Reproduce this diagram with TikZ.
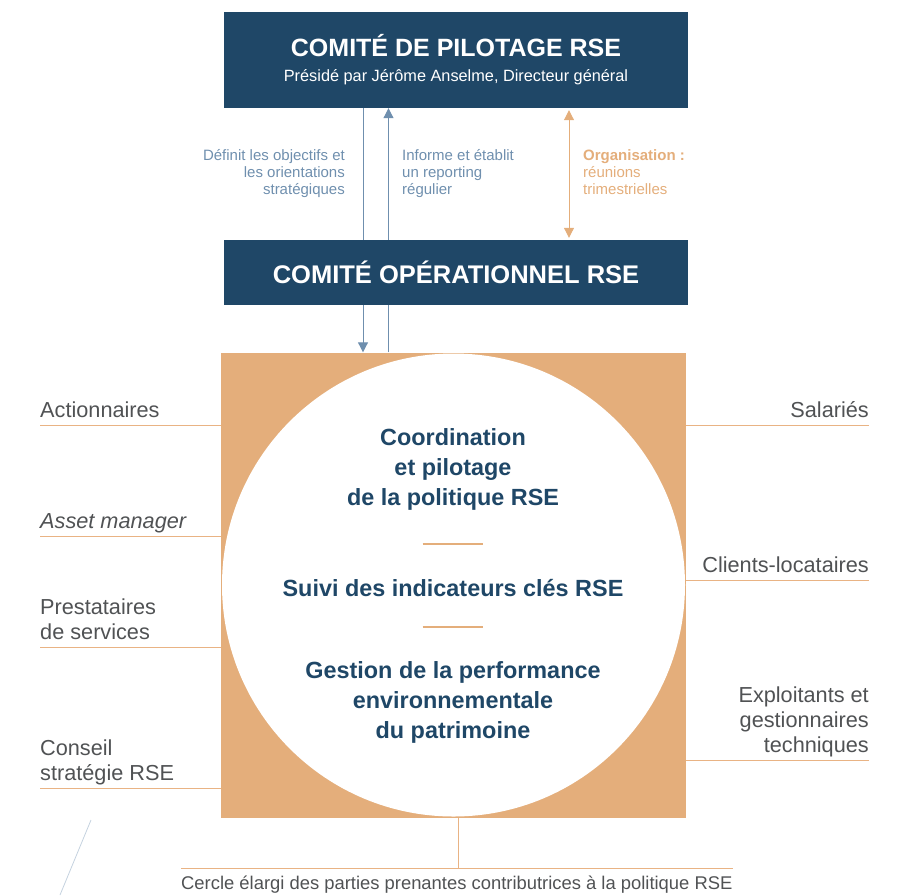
\documentclass[tikz,border=0pt]{standalone}
\usepackage{fontspec}
\setmainfont{Liberation Sans}
\usetikzlibrary{positioning, arrows.meta}
\definecolor{navy}{HTML}{1F4767}
\definecolor{sand}{HTML}{E4AE7B}
\definecolor{slate}{HTML}{6F8FAE}
\definecolor{ink}{HTML}{505254}
\definecolor{rule}{HTML}{E9B384}

\begin{document}
\begin{tikzpicture}[x=1pt, y=-1pt,
    comite/.style={fill=navy, text=white, minimum width=464, align=center, inner sep=0},
    flux/.style={draw=slate, line width=1pt},
    fleche/.style={-{Triangle[width=10pt,length=10pt]}},
    note/.style={text=slate, font=\fontsize{15}{17}\selectfont, inner sep=0},
    partie/.style={text=ink, font=\fontsize{21.7}{25}\selectfont, inner sep=0,
        execute at end node=\strut},
    trait/.style={draw=rule, line width=1pt},
    mission/.style={text=navy, font=\bfseries\fontsize{23.4}{30}\selectfont, align=center, inner sep=0},
]
\useasboundingbox (0,0) rectangle (903,895);

% comites
\node[comite, minimum height=96, font=\fontsize{16.3}{25}\selectfont] (pilot) at (456,60)
    {{\bfseries\fontsize{25}{25}\selectfont COMITÉ DE PILOTAGE RSE}\\
     Présidé par Jérôme Anselme, Directeur général};
\node[comite, minimum height=65, font=\bfseries\fontsize{25.5}{28}\selectfont] (opera) at (456,272.5)
    {COMITÉ OPÉRATIONNEL RSE};

% carre et cercle
\node[fill=sand, minimum size=465, inner sep=0] (carre) at (453.5,585) {};
\node[circle, fill=white, minimum size=463, inner sep=0] (cercle) at (carre.center) {};

\node[mission] (coord) at (453,469) {Coordination\\et pilotage\\de la politique RSE};
\node[mission] (suivi) at (453,588) {Suivi des indicateurs clés RSE};
\node[mission] (gestion) at (453,702) {Gestion de la performance\\environnementale\\du patrimoine};
\coordinate (sepA) at (452.5,544);
\coordinate (sepB) at (452.5,627);
\draw[draw=sand, line width=1.6pt] ([xshift=-30]sepA) -- ([xshift=30]sepA);
\draw[draw=sand, line width=1.6pt] ([xshift=-30]sepB) -- ([xshift=30]sepB);

% fleches
\coordinate (xdesc) at (363,0);
\coordinate (xmont) at (388.5,0);
\coordinate (xorg) at (569,0);
\draw[flux] (pilot.south -| xdesc) -- (opera.north -| xdesc);
\draw[flux, fleche] (opera.south -| xdesc) -- (carre.north -| xdesc);
\draw[flux] (carre.north -| xmont) -- (opera.south -| xmont);
\draw[flux, fleche] (opera.north -| xmont) -- (pilot.south -| xmont);
\draw[draw=sand, line width=1pt, {Triangle[width=10pt,length=10pt]}-{Triangle[width=10pt,length=10pt]},
    shorten <=2pt, shorten >=2pt] (pilot.south -| xorg) -- (opera.north -| xorg);

\node[note, anchor=north east, align=right] (definit) at (345,149)
    {Définit les objectifs et\\les orientations\\stratégiques};
\node[note, anchor=north west, align=left] (informe) at (402,149)
    {Informe et établit\\un reporting\\régulier};
\node[note, anchor=north west, align=left, text=sand] (orga) at (583,149)
    {\textbf{Organisation :}\\réunions\\trimestrielles};

% parties prenantes
\node[partie, anchor=south west, align=left] (action) at (40,425) {Actionnaires};
\node[partie, anchor=south west, align=left] (asset) at (40,536) {\itshape Asset manager};
\node[partie, anchor=south west, align=left] (presta) at (40,647) {Prestataires\\de services};
\node[partie, anchor=south west, align=left] (conseil) at (40,788) {Conseil\\stratégie RSE};
\node[partie, anchor=south east, align=right] (salar) at (869,425) {Salariés};
\node[partie, anchor=south east, align=right] (client) at (869,580) {Clients-locataires};
\node[partie, anchor=south east, align=right] (exploit) at (869,760) {Exploitants et\\gestionnaires\\techniques};

\draw[trait] (action.south west) -- (action.south west -| carre.west);
\draw[trait] (asset.south west) -- (asset.south west -| carre.west);
\draw[trait] (presta.south west) -- (presta.south west -| carre.west);
\draw[trait] (conseil.south west) -- (conseil.south west -| carre.west);
\draw[trait] (salar.south east) -- (salar.south east -| carre.east);
\draw[trait] (client.south east) -- (client.south east -| carre.east);
\draw[trait] (exploit.south east) -- (exploit.south east -| carre.east);

% cercle elargi
\node[anchor=north west, text=ink, font=\fontsize{18.4}{20}\selectfont, inner xsep=0, inner ysep=2pt,
    text height=19pt] (legende) at (181,868)
    {Cercle élargi des parties prenantes contributrices à la politique RSE};
\draw[trait] (legende.north west) -- (legende.north east);
\draw[trait] ([xshift=4.5]carre.south) -- ([xshift=4.5]carre.south |- legende.north);
\draw[draw=slate!40, line width=0.8pt] (91,820) -- (60,895);
\end{tikzpicture}
\end{document}
